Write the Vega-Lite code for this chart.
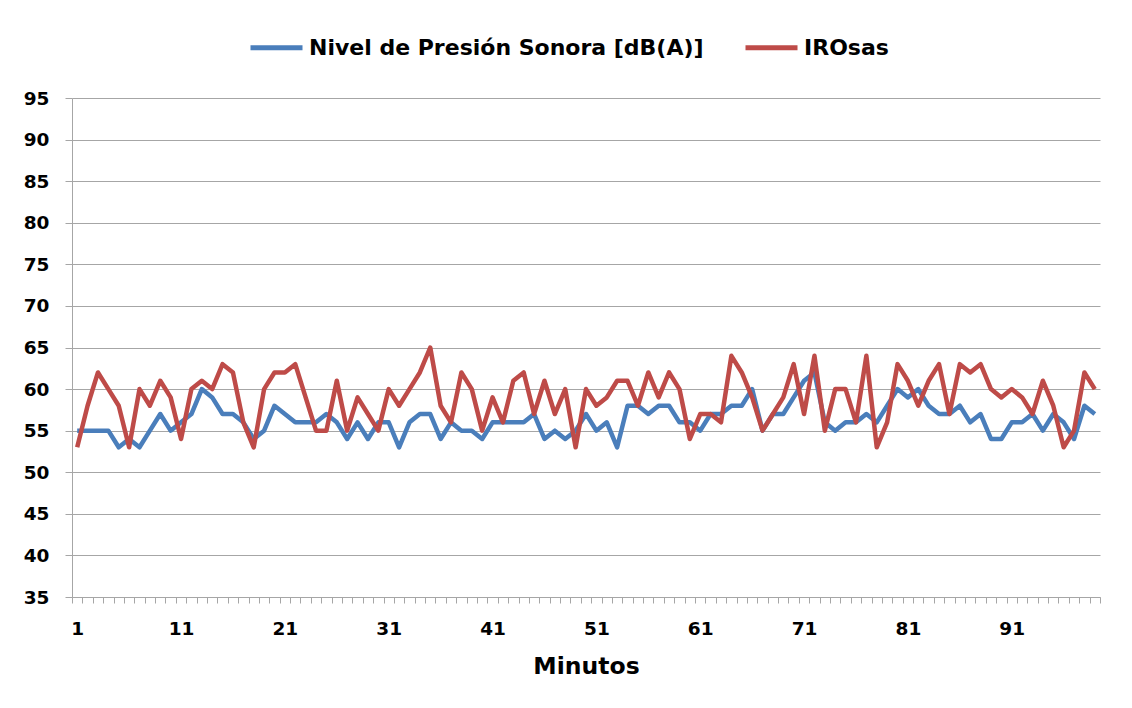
{
  "$schema": "https://vega.github.io/schema/vega-lite/v6.json",
  "width": 1028,
  "height": 499,
  "autosize": {"type": "none"},
  "padding": {"left": 72, "top": 98, "right": 32, "bottom": 111},
  "background": "white",
  "config": {"view": {"stroke": null}, "font": "DejaVu Sans"},
  "data": {"values": [
    {"min":1,"nivel":55,"irosas":53},{"min":2,"nivel":55,"irosas":58},{"min":3,"nivel":55,"irosas":62},{"min":4,"nivel":55,"irosas":60},{"min":5,"nivel":53,"irosas":58},
    {"min":6,"nivel":54,"irosas":53},{"min":7,"nivel":53,"irosas":60},{"min":8,"nivel":55,"irosas":58},{"min":9,"nivel":57,"irosas":61},{"min":10,"nivel":55,"irosas":59},
    {"min":11,"nivel":56,"irosas":54},{"min":12,"nivel":57,"irosas":60},{"min":13,"nivel":60,"irosas":61},{"min":14,"nivel":59,"irosas":60},{"min":15,"nivel":57,"irosas":63},
    {"min":16,"nivel":57,"irosas":62},{"min":17,"nivel":56,"irosas":56},{"min":18,"nivel":54,"irosas":53},{"min":19,"nivel":55,"irosas":60},{"min":20,"nivel":58,"irosas":62},
    {"min":21,"nivel":57,"irosas":62},{"min":22,"nivel":56,"irosas":63},{"min":23,"nivel":56,"irosas":59},{"min":24,"nivel":56,"irosas":55},{"min":25,"nivel":57,"irosas":55},
    {"min":26,"nivel":56,"irosas":61},{"min":27,"nivel":54,"irosas":55},{"min":28,"nivel":56,"irosas":59},{"min":29,"nivel":54,"irosas":57},{"min":30,"nivel":56,"irosas":55},
    {"min":31,"nivel":56,"irosas":60},{"min":32,"nivel":53,"irosas":58},{"min":33,"nivel":56,"irosas":60},{"min":34,"nivel":57,"irosas":62},{"min":35,"nivel":57,"irosas":65},
    {"min":36,"nivel":54,"irosas":58},{"min":37,"nivel":56,"irosas":56},{"min":38,"nivel":55,"irosas":62},{"min":39,"nivel":55,"irosas":60},{"min":40,"nivel":54,"irosas":55},
    {"min":41,"nivel":56,"irosas":59},{"min":42,"nivel":56,"irosas":56},{"min":43,"nivel":56,"irosas":61},{"min":44,"nivel":56,"irosas":62},{"min":45,"nivel":57,"irosas":57},
    {"min":46,"nivel":54,"irosas":61},{"min":47,"nivel":55,"irosas":57},{"min":48,"nivel":54,"irosas":60},{"min":49,"nivel":55,"irosas":53},{"min":50,"nivel":57,"irosas":60},
    {"min":51,"nivel":55,"irosas":58},{"min":52,"nivel":56,"irosas":59},{"min":53,"nivel":53,"irosas":61},{"min":54,"nivel":58,"irosas":61},{"min":55,"nivel":58,"irosas":58},
    {"min":56,"nivel":57,"irosas":62},{"min":57,"nivel":58,"irosas":59},{"min":58,"nivel":58,"irosas":62},{"min":59,"nivel":56,"irosas":60},{"min":60,"nivel":56,"irosas":54},
    {"min":61,"nivel":55,"irosas":57},{"min":62,"nivel":57,"irosas":57},{"min":63,"nivel":57,"irosas":56},{"min":64,"nivel":58,"irosas":64},{"min":65,"nivel":58,"irosas":62},
    {"min":66,"nivel":60,"irosas":59},{"min":67,"nivel":55,"irosas":55},{"min":68,"nivel":57,"irosas":57},{"min":69,"nivel":57,"irosas":59},{"min":70,"nivel":59,"irosas":63},
    {"min":71,"nivel":61,"irosas":57},{"min":72,"nivel":62,"irosas":64},{"min":73,"nivel":56,"irosas":55},{"min":74,"nivel":55,"irosas":60},{"min":75,"nivel":56,"irosas":60},
    {"min":76,"nivel":56,"irosas":56},{"min":77,"nivel":57,"irosas":64},{"min":78,"nivel":56,"irosas":53},{"min":79,"nivel":58,"irosas":56},{"min":80,"nivel":60,"irosas":63},
    {"min":81,"nivel":59,"irosas":61},{"min":82,"nivel":60,"irosas":58},{"min":83,"nivel":58,"irosas":61},{"min":84,"nivel":57,"irosas":63},{"min":85,"nivel":57,"irosas":57},
    {"min":86,"nivel":58,"irosas":63},{"min":87,"nivel":56,"irosas":62},{"min":88,"nivel":57,"irosas":63},{"min":89,"nivel":54,"irosas":60},{"min":90,"nivel":54,"irosas":59},
    {"min":91,"nivel":56,"irosas":60},{"min":92,"nivel":56,"irosas":59},{"min":93,"nivel":57,"irosas":57},{"min":94,"nivel":55,"irosas":61},{"min":95,"nivel":57,"irosas":58},
    {"min":96,"nivel":56,"irosas":53},{"min":97,"nivel":54,"irosas":55},{"min":98,"nivel":58,"irosas":62},{"min":99,"nivel":57,"irosas":60}
  ]},
  "encoding": {
    "x": {
      "field": "min",
      "type": "quantitative",
      "scale": {"domain": [0.5, 99.5], "nice": false, "zero": false},
      "axis": {
        "values": [0.5,1.5,2.5,3.5,4.5,5.5,6.5,7.5,8.5,9.5,10.5,11.5,12.5,13.5,14.5,15.5,16.5,17.5,18.5,19.5,20.5,21.5,22.5,23.5,24.5,25.5,26.5,27.5,28.5,29.5,30.5,31.5,32.5,33.5,34.5,35.5,36.5,37.5,38.5,39.5,40.5,41.5,42.5,43.5,44.5,45.5,46.5,47.5,48.5,49.5,50.5,51.5,52.5,53.5,54.5,55.5,56.5,57.5,58.5,59.5,60.5,61.5,62.5,63.5,64.5,65.5,66.5,67.5,68.5,69.5,70.5,71.5,72.5,73.5,74.5,75.5,76.5,77.5,78.5,79.5,80.5,81.5,82.5,83.5,84.5,85.5,86.5,87.5,88.5,89.5,90.5,91.5,92.5,93.5,94.5,95.5,96.5,97.5,98.5,99.5],
        "labelExpr": "(datum.value - 0.5) % 10 == 0 ? format(datum.value + 0.5, 'd') : ''",
        "labelOffset": 5.2,
        "labelOverlap": false,
        "labelBound": false,
        "labelFlush": false,
        "grid": false,
        "tickSize": 6,
        "tickColor": "#A6A6A6",
        "domainColor": "#A6A6A6",
        "labelFont": "DejaVu Sans",
        "labelFontSize": 18.5,
        "labelFontWeight": "bold",
        "labelColor": "#000000",
        "labelPadding": 16,
        "title": "Minutos",
        "titleFont": "DejaVu Sans",
        "titleFontSize": 23.5,
        "titleFontWeight": "bold",
        "titleColor": "#000000",
        "titlePadding": 17
      }
    }
  },
  "layer": [
    {
      "mark": {"type": "line", "strokeWidth": 4.5, "strokeJoin": "round"},
      "encoding": {
        "y": {
          "field": "nivel",
          "type": "quantitative",
          "scale": {"domain": [35, 95], "nice": false, "zero": false},
          "axis": {
            "values": [35,40,45,50,55,60,65,70,75,80,85,90,95],
            "title": null,
            "grid": true,
            "gridColor": "#A6A6A6",
            "domainColor": "#A6A6A6",
            "tickColor": "#A6A6A6",
            "tickSize": 7,
            "labelFont": "DejaVu Sans",
            "labelFontSize": 18.5,
            "labelFontWeight": "bold",
            "labelColor": "#000000",
            "labelPadding": 16
          }
        },
        "color": {
          "datum": "Nivel de Presión Sonora [dB(A)]",
          "type": "nominal",
          "scale": {"domain": ["Nivel de Presión Sonora [dB(A)]", "IROsas"], "range": ["#4A7EBB", "#BE4B48"]},
          "legend": {
            "orient": "none",
            "direction": "horizontal",
            "legendX": 176,
            "legendY": -79,
            "title": null,
            "symbolType": "stroke",
            "symbolSize": 2704,
            "symbolStrokeWidth": 5,
            "labelOffset": 4,
            "labelFont": "DejaVu Sans",
            "labelFontSize": 22,
            "labelFontWeight": "bold",
            "labelColor": "#000000",
            "columnPadding": 31,
            "labelLimit": 600
          }
        }
      }
    },
    {
      "mark": {"type": "line", "strokeWidth": 4.5, "strokeJoin": "round"},
      "encoding": {
        "y": {"field": "irosas", "type": "quantitative", "scale": {"domain": [35, 95], "nice": false, "zero": false}},
        "color": {"datum": "IROsas", "type": "nominal"}
      }
    }
  ]
}
